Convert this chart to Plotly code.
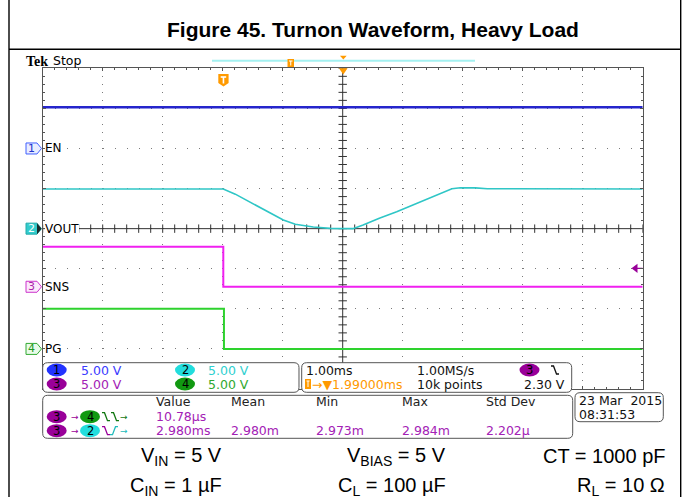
import plotly.graph_objects as go

W, H = 683, 497

# ---------------- waveform data (time in ms from trigger, amplitude in V) ----------------
t_en = [-3.01, 6.99]
v_en = [5.15, 5.15]

t_vout = [-3.01, 0.0, 0.2, 0.36, 0.5, 0.75, 1.0, 1.2, 1.5, 1.78, 2.16, 2.33, 2.6, 2.89,
          3.2, 3.44, 3.65, 3.81, 3.95, 4.2, 4.4, 6.99]
v_vout = [4.95, 4.95, 4.3, 3.66, 3.04, 2.0, 1.08, 0.54, 0.2, 0.03, 0.0, 0.45, 1.3, 2.1,
          3.1, 3.85, 4.55, 4.98, 5.1, 5.08, 4.97, 4.95]

t_sns = [-3.01, 0.0, 0.0, 6.99]
v_sns = [5.0, 5.0, 0.0, 0.0]

t_pg = [-3.01, 0.011, 0.011, 6.99]
v_pg = [5.0, 5.0, 0.0, 0.0]

# ---------------- scope settings ----------------
channel_names = ["EN", "VOUT", "SNS", "PG"]
volts_per_div = [5.0, 5.0, 5.0, 5.0]
offset_div = [2.0, 0.0, -1.45, -3.0]
trace_colors = ["#2525cc", "#2fc6c6", "#f020f0", "#2ed22e"]
ms_per_div = 1.0
h_delay_ms = 1.99
trig_level_v = 2.30

# ---------------- readout text ----------------
scale_labels = ["5.00 V", "5.00 V", "5.00 V", "5.00 V"]
meas_headers = ["Value", "Mean", "Min", "Max", "Std Dev"]
meas_row1 = ["10.78µs", "", "", "", ""]
meas_row2 = ["2.980ms", "2.980m", "2.973m", "2.984m", "2.202µ"]
param_row1 = ["V<sub>IN</sub> = 5 V", "V<sub>BIAS</sub> = 5 V", "CT = 1000 pF"]
param_row2 = ["C<sub>IN</sub> = 1 µF", "C<sub>L</sub> = 100 µF", "R<sub>L</sub> = 10 Ω"]

# pixel helpers for page decorations
def X(px):
    return px / W


def Y(py):
    return 1 - py / H


# graticule frame in page pixels
GX0, GX1, GY0, GY1 = 42.7, 642.7, 68.3, 389.0
DIV_PX = (GY1 - GY0) / 8
CY = (GY0 + GY1) / 2

t0 = h_delay_ms - 5 * ms_per_div
t1 = h_delay_ms + 5 * ms_per_div

fig = go.Figure()

# centre crosshair with its fine ticks
fig.add_trace(go.Scatter(x=[t0, t1], y=[0, 0], mode="lines",
                         line=dict(color="#333333", width=1), hoverinfo="skip"))
fig.add_trace(go.Scatter(x=[h_delay_ms, h_delay_ms], y=[-4, 4], mode="lines",
                         line=dict(color="#333333", width=1), hoverinfo="skip"))
hx = [t0 + 0.2 * k * ms_per_div for k in range(51)]
fig.add_trace(go.Scatter(x=hx, y=[0] * len(hx), mode="markers",
                         marker=dict(symbol="line-ns", size=6, line=dict(color="#333333", width=1)),
                         hoverinfo="skip"))
vy = [-4 + 0.2 * k for k in range(41)]
fig.add_trace(go.Scatter(x=[h_delay_ms] * len(vy), y=vy, mode="markers",
                         marker=dict(symbol="line-ew", size=6, line=dict(color="#333333", width=1)),
                         hoverinfo="skip"))

# channel waveforms, each on its own volt axis
series = [(t_en, v_en), (t_vout, v_vout), (t_sns, v_sns), (t_pg, v_pg)]
widths = [2.5, 1.6, 2.0, 2.0]
for i, (tt, vv) in enumerate(series):
    fig.add_trace(go.Scatter(x=tt, y=vv, yaxis=f"y{i + 2}", mode="lines",
                             line=dict(color=trace_colors[i], width=widths[i]),
                             hoverinfo="skip"))

# trigger level marker (channel 3)
fig.add_trace(go.Scatter(x=[t1 - 0.12 * ms_per_div, t1], y=[trig_level_v, trig_level_v], yaxis="y4",
                         mode="lines", line=dict(color="#990099", width=1.2), hoverinfo="skip"))
fig.add_trace(go.Scatter(x=[t1 - 0.12 * ms_per_div], y=[trig_level_v], yaxis="y4", mode="markers",
                         marker=dict(symbol="triangle-left", size=8, color="#990099"),
                         hoverinfo="skip"))

layout = dict(
    width=W, height=H, margin=dict(l=0, r=0, t=0, b=0),
    paper_bgcolor="white", plot_bgcolor="rgba(0,0,0,0)", showlegend=False,
    xaxis=dict(domain=[X(GX0), X(GX1)], range=[t0, t1], showgrid=True, gridcolor="#7a7a7a",
               griddash="1px,7px", gridwidth=1, tick0=t0, dtick=ms_per_div, ticks="inside",
               ticklen=3, tickcolor="#555", showticklabels=False, showline=True,
               linecolor="#555", linewidth=1, mirror="ticks", zeroline=False,
               minor=dict(tick0=t0, dtick=0.2 * ms_per_div, ticks="inside", ticklen=2,
                          tickcolor="#555", showgrid=False), fixedrange=True),
    yaxis=dict(domain=[Y(GY1), Y(GY0)], range=[-4, 4], showgrid=True, gridcolor="#7a7a7a",
               griddash="1px,11px", gridwidth=1, tick0=0, dtick=1, ticks="inside", ticklen=3,
               tickcolor="#555", showticklabels=False, showline=True, linecolor="#555",
               linewidth=1, mirror="ticks", zeroline=False,
               minor=dict(tick0=0, dtick=0.2, ticks="inside", ticklen=2, tickcolor="#555",
                          showgrid=False), fixedrange=True),
)
for i in range(4):
    s, o = volts_per_div[i], offset_div[i]
    layout[f"yaxis{i + 2}"] = dict(overlaying="y", range=[(-4 - o) * s, (4 - o) * s],
                                   visible=False, fixedrange=True)
fig.update_layout(**layout)

shapes = []
annotations = []


def line(x0, y0, x1, y1, color="black", width=1.0):
    shapes.append(dict(type="line", xref="paper", yref="paper", x0=X(x0), y0=Y(y0),
                       x1=X(x1), y1=Y(y1), line=dict(color=color, width=width), layer="above"))


def poly(points, fill=None, color="rgba(0,0,0,0)", width=0, closed=True):
    p = "M " + " L ".join(f"{X(a):.5f},{Y(b):.5f}" for a, b in points) + (" Z" if closed else "")
    shapes.append(dict(type="path", xref="paper", yref="paper", path=p,
                       fillcolor=fill if fill else "rgba(0,0,0,0)",
                       line=dict(color=color, width=width), layer="above"))


def rrect(x0, y0, x1, y1, r=5, fill="white", color="#555", width=1):
    f = lambda a, b: f"{X(a):.5f},{Y(b):.5f}"
    p = (f"M {f(x0 + r, y0)} L {f(x1 - r, y0)} Q {f(x1, y0)} {f(x1, y0 + r)} "
         f"L {f(x1, y1 - r)} Q {f(x1, y1)} {f(x1 - r, y1)} L {f(x0 + r, y1)} "
         f"Q {f(x0, y1)} {f(x0, y1 - r)} L {f(x0, y0 + r)} Q {f(x0, y0)} {f(x0 + r, y0)} Z")
    shapes.append(dict(type="path", xref="paper", yref="paper", path=p, fillcolor=fill,
                       line=dict(color=color, width=width), layer="above"))


def txt(s, x, y, color="#111", size=12.5, anchor="left", family="DejaVu Sans", **kw):
    annotations.append(dict(text=s, x=X(x), y=Y(y), xref="paper", yref="paper",
                            xanchor=anchor, yanchor="middle", showarrow=False,
                            font=dict(family=family, size=size, color=color),
                            borderpad=0, borderwidth=0, **kw))


def badge(n, cx, cy, fill):
    shapes.append(dict(type="circle", xref="paper", yref="paper", x0=X(cx - 10), x1=X(cx + 10),
                       y0=Y(cy + 6.5), y1=Y(cy - 6.5), fillcolor=fill,
                       line=dict(width=0), layer="above"))
    txt(n, cx, cy, color="black", size=11.5, anchor="center")


def falling(x, y, color):
    poly([(x, y - 4), (x + 2.5, y - 4), (x + 5.5, y + 4), (x + 8, y + 4)], color=color,
         width=1.3, closed=False)


def rising(x, y, color):
    poly([(x, y + 4), (x + 2.5, y + 4), (x + 5.5, y - 4), (x + 8, y - 4)], color=color,
         width=1.3, closed=False)


# page frame and title rule
line(9, 0, 9, H, width=1.4)
line(680.7, 0, 680.7, H, width=1.4)
line(9, 49.3, 680.7, 49.3, width=1.4)
txt("<b>Figure 45. Turnon Waveform, Heavy Load</b>", 373, 29.5, color="black", size=21,
    anchor="center", family="Liberation Sans")

# scope header
txt("<b>Tek</b>", 25.5, 61, color="black", size=14, family="Liberation Serif")
txt("Stop", 52.5, 60.5, color="black", size=12.5)
line(212, 60.7, 475, 60.7, color="#a4f0f0", width=2)
poly([(287.5, 59), (294, 59), (294, 67), (287.5, 67)], fill="#ff9a00")
line(289, 61, 292.5, 61, color="white", width=1)
line(290.75, 61, 290.75, 65.5, color="white", width=1)
poly([(340, 55.7), (346.7, 55.7), (343.3, 59.5)], fill="#ff9a00")
poly([(339, 68.3), (347.6, 68.3), (343.3, 74.5)], fill="#ff9a00")
# trigger-position shield
x_trig = GX0 + (0 - t0) / ms_per_div * 60
poly([(x_trig - 5, 74), (x_trig + 5.3, 74), (x_trig + 5.3, 83), (x_trig + 0.2, 86.5),
      (x_trig - 5, 83)], fill="#ff9a00")
line(x_trig - 2.6, 77, x_trig + 2.9, 77, color="white", width=1.6)
line(x_trig + 0.15, 77, x_trig + 0.15, 83.5, color="white", width=1.6)

# channel ground markers and names
tag_style = [("#e9edff", "#4060ff", "#2233cc"), ("#33cccc", "#22aaaa", "white"),
             ("#fbe9fb", "#cc33cc", "#aa22aa"), ("#e9fbe9", "#33aa33", "#229922")]
for i, name in enumerate(channel_names):
    gy = CY - offset_div[i] * DIV_PX
    fill, edge, tc = tag_style[i]
    poly([(26, gy - 5.5), (37, gy - 5.5), (41.5, gy), (37, gy + 5.5), (26, gy + 5.5)],
         fill=fill, color=edge, width=1)
    if i == 1:
        poly([(37, gy - 5.5), (41.5, gy), (37, gy + 5.5)], fill="#1e2a2a")
    txt(str(i + 1), 31.5, gy, color=tc, size=11, anchor="center")
    txt(name, 45, gy, color="black", size=12, bgcolor="white")

# vertical scale readout
rrect(42.7, 362.7, 299, 392.3)
badge_fill = ["#2233ff", "#22dddd", "#990099", "#119911"]
scale_text = ["#3b3bff", "#2fd0d0", "#a321b5", "#2fa82f"]
pos = [(56.7, 81, 370), (185, 208, 370), (56.7, 81, 384), (185, 208, 384)]
for i in range(4):
    bx, tx, ty = pos[i]
    badge(str(i + 1), bx, ty, badge_fill[i])
    txt(scale_labels[i], tx, ty, color=scale_text[i])

# timebase / trigger readout
rrect(301.7, 362.7, 571.7, 392.3)
txt(f"{ms_per_div:.2f}ms", 305.5, 370, color="#111")
txt("1.00MS/s", 417, 370, color="#111")
badge("3", 529.5, 370, "#990099")
falling(551, 370, "#111")
poly([(305, 379), (311, 379), (311, 389), (305, 389)], fill="#ff9a00")
line(306.5, 381, 309.5, 381, color="white", width=1)
line(308, 381, 308, 387, color="white", width=1)
txt(f"→▼{h_delay_ms:.5f}ms", 311.5, 384, color="#ff9900")
txt("10k points", 417, 384, color="#111")
txt(f"{trig_level_v:.2f} V", 565, 384, color="#111", anchor="right")

# measurement table
rrect(42.7, 395.3, 572.7, 438.3)
col_x = [156, 231.2, 316, 401.7, 485.7]
for cx, hdr in zip(col_x, meas_headers):
    txt(hdr, cx, 401.7, color="#222")
for cx, v in zip(col_x, meas_row1):
    if v:
        txt(v, cx, 416.7, color="#a321b5")
for cx, v in zip(col_x, meas_row2):
    txt(v, cx, 430.7, color="#a321b5")
badge("3", 56.7, 416.7, "#990099")
txt("→", 70.5, 416.7, color="#990099", size=9)
badge("4", 90, 416.7, "#119911")
falling(102, 416.7, "#117711")
falling(111, 416.7, "#117711")
txt("→", 120, 416.7, color="#117711", size=9)
badge("3", 56.7, 430.7, "#990099")
txt("→", 70.5, 430.7, color="#990099", size=9)
badge("2", 90, 430.7, "#22dddd")
falling(102, 430.7, "#990099")
rising(110, 430.7, "#22bbbb")
txt("→", 120, 430.7, color="#22bbbb", size=9)

# acquisition date
rrect(575, 392.7, 663.3, 421.7)
txt("23 Mar  2015", 578.5, 400.7, color="#111")
txt("08:31:53", 578.5, 414.3, color="#111")

# test conditions
right_x = [222, 446, 665]
for rx, s in zip(right_x, param_row1):
    txt(s, rx, 456, color="black", size=20, anchor="right", family="Liberation Sans")
for rx, s in zip(right_x, param_row2):
    txt(s, rx, 486.5, color="black", size=20, anchor="right", family="Liberation Sans")

fig.update_layout(shapes=shapes, annotations=annotations)
fig.write_html("out.html")
